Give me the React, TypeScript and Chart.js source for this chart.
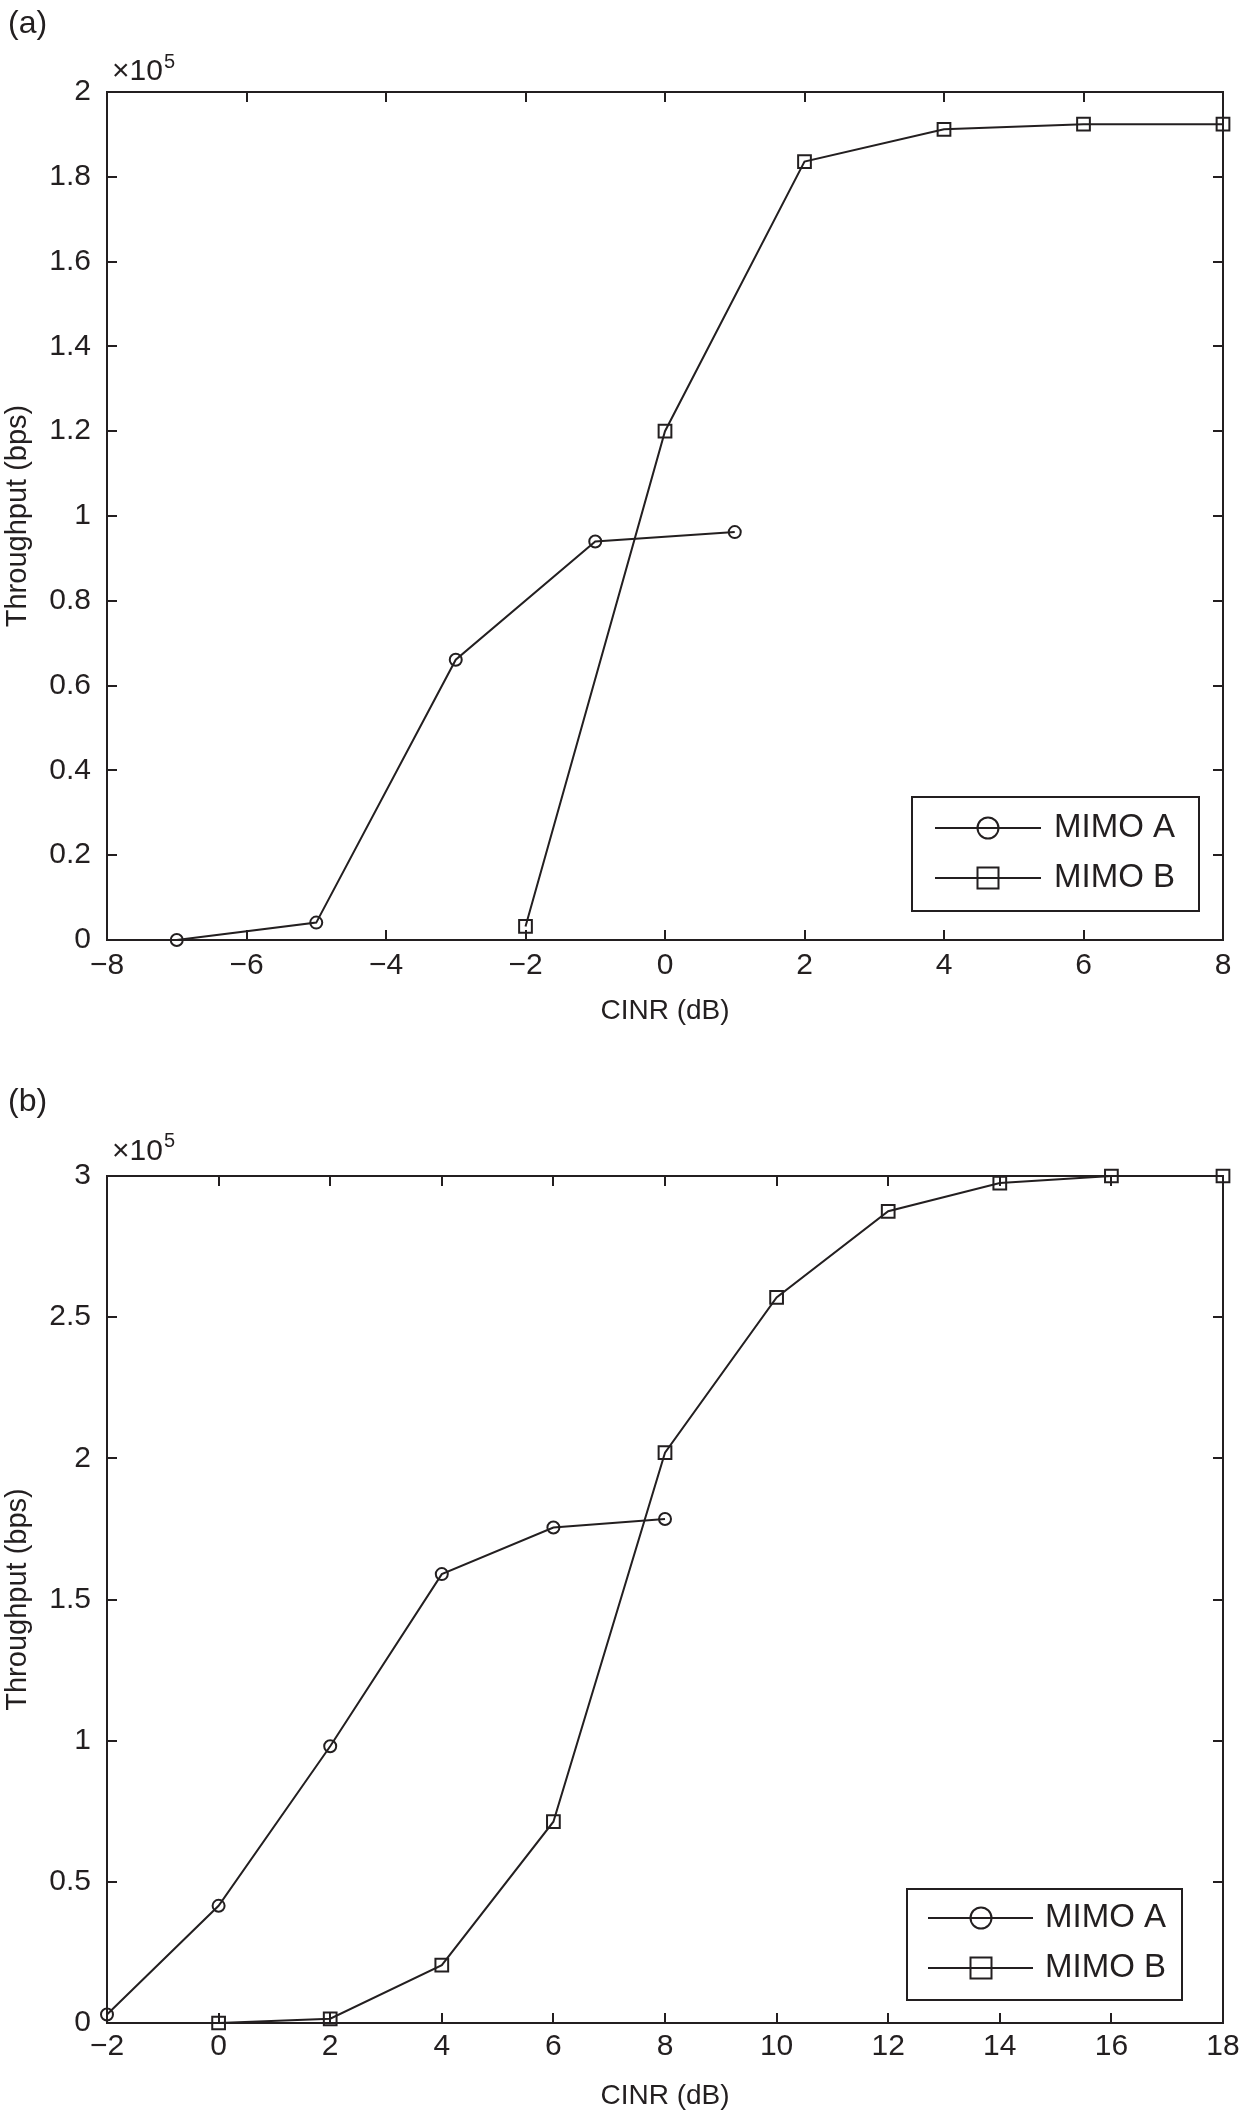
import React, { useEffect, useRef } from 'react';
import { Chart, registerables } from 'chart.js';

Chart.register(...registerables);

const FONT = '"Liberation Sans", Arial, Helvetica, sans-serif';
const INK = '#231f20';
const W = 1242;

// ---------- Panel (a) data ----------
const cinrMimoA_a = [-7, -5, -3, -1, 1];
const tputMimoA_a = [0, 4100, 66100, 94000, 96200];
const cinrMimoB_a = [-2, 0, 2, 4, 6, 8];
const tputMimoB_a = [3200, 120000, 183600, 191200, 192400, 192400];
const xTicks_a = [-8, -6, -4, -2, 0, 2, 4, 6, 8];
const xTickLabels_a = ['\u22128', '\u22126', '\u22124', '\u22122', '0', '2', '4', '6', '8'];
const yTicks_a = [0, 20000, 40000, 60000, 80000, 100000, 120000, 140000, 160000, 180000, 200000];
const yTickLabels_a = ['0', '0.2', '0.4', '0.6', '0.8', '1', '1.2', '1.4', '1.6', '1.8', '2'];

// ---------- Panel (b) data ----------
const cinrMimoA_b = [-2, 0, 2, 4, 6, 8];
const tputMimoA_b = [3000, 41500, 98000, 159000, 175500, 178500];
const cinrMimoB_b = [0, 2, 4, 6, 8, 10, 12, 14, 16, 18];
const tputMimoB_b = [0, 1500, 20500, 71300, 202000, 257000, 287500, 297500, 300000, 300000];
const xTicks_b = [-2, 0, 2, 4, 6, 8, 10, 12, 14, 16, 18];
const xTickLabels_b = ['\u22122', '0', '2', '4', '6', '8', '10', '12', '14', '16', '18'];
const yTicks_b = [0, 50000, 100000, 150000, 200000, 250000, 300000];
const yTickLabels_b = ['0', '0.5', '1', '1.5', '2', '2.5', '3'];

const seriesNames = ['MIMO A', 'MIMO B'];
const xTitle = 'CINR (dB)';
const yTitle = 'Throughput (bps)';

type Panel = {
  tag: string;
  height: number;
  plotTop: number;
  plotBottom: number;
  plotLeft: number;
  plotRight: number;
  xs: number[][];
  ys: number[][];
  xTicks: number[];
  xLabels: string[];
  yTicks: number[];
  yLabels: string[];
  xLabelPad: number;
  xTitlePad: number;
  legend: { l: number; t: number; r: number; b: number; rows: number[]; x0: number; x1: number; mx: number; tx: number };
  expo: { x: number; y: number; supY: number };
  tagPos: { x: number; y: number };
};

const panels: Panel[] = [
  {
    tag: '(a)',
    height: 1050,
    plotTop: 92,
    plotBottom: 940,
    plotLeft: 107,
    plotRight: 1223,
    xs: [cinrMimoA_a, cinrMimoB_a],
    ys: [tputMimoA_a, tputMimoB_a],
    xTicks: xTicks_a,
    xLabels: xTickLabels_a,
    yTicks: yTicks_a,
    yLabels: yTickLabels_a,
    xLabelPad: 18,
    xTitlePad: 22,
    legend: { l: 912, t: 797, r: 1199, b: 911, rows: [828, 878], x0: 935, x1: 1041, mx: 988, tx: 1054 },
    expo: { x: 112, y: 80, supY: 68 },
    tagPos: { x: 8, y: 33 },
  },
  {
    tag: '(b)',
    height: 1063,
    plotTop: 126,
    plotBottom: 973,
    plotLeft: 107,
    plotRight: 1223,
    xs: [cinrMimoA_b, cinrMimoB_b],
    ys: [tputMimoA_b, tputMimoB_b],
    xTicks: xTicks_b,
    xLabels: xTickLabels_b,
    yTicks: yTicks_b,
    yLabels: yTickLabels_b,
    xLabelPad: 16,
    xTitlePad: 0,
    legend: { l: 907, t: 839, r: 1182, b: 950, rows: [868, 918], x0: 928, x1: 1033, mx: 981, tx: 1045 },
    expo: { x: 112, y: 110, supY: 97 },
    tagPos: { x: 8, y: 61 },
  },
];

const pointStyles = ['circle', 'rect'];
const pointRadii = [6, 9];

function makeConfig(p: Panel): any {
  const gridOpts = {
    drawOnChartArea: false,
    drawTicks: true,
    tickLength: -10,
    color: INK,
    lineWidth: 2,
  };
  const borderOpts = { display: true, color: INK, width: 2 };
  const xMin = p.xTicks[0];
  const xMax = p.xTicks[p.xTicks.length - 1];
  const yMin = p.yTicks[0];
  const yMax = p.yTicks[p.yTicks.length - 1];
  const setX = (s: any) => {
    s.ticks = p.xTicks.map((v) => ({ value: v }));
  };
  const setY = (s: any) => {
    s.ticks = p.yTicks.map((v) => ({ value: v }));
  };
  const noPad = (s: any) => {
    s.paddingLeft = 0;
    s.paddingRight = 0;
    s.paddingTop = 0;
    s.paddingBottom = 0;
  };

  const decor = {
    id: 'decor' + p.tag,
    afterDraw(chart: any) {
      const ctx = chart.ctx as CanvasRenderingContext2D;
      ctx.save();
      ctx.fillStyle = INK;
      ctx.strokeStyle = INK;
      // panel tag
      ctx.font = `32px ${FONT}`;
      ctx.textBaseline = 'alphabetic';
      ctx.textAlign = 'left';
      ctx.fillText(p.tag, p.tagPos.x, p.tagPos.y);
      // exponent
      ctx.font = `30px ${FONT}`;
      ctx.fillText('\u00d710', p.expo.x, p.expo.y);
      const w = ctx.measureText('\u00d710').width;
      ctx.font = `20px ${FONT}`;
      ctx.fillText('5', p.expo.x + w + 1, p.expo.supY);
      // legend box
      const L = p.legend;
      ctx.fillStyle = '#ffffff';
      ctx.fillRect(L.l, L.t, L.r - L.l, L.b - L.t);
      ctx.lineWidth = 2;
      ctx.strokeRect(L.l, L.t, L.r - L.l, L.b - L.t);
      chart.data.datasets.forEach((ds: any, i: number) => {
        const y = L.rows[i];
        ctx.beginPath();
        ctx.moveTo(L.x0, y);
        ctx.lineTo(L.x1, y);
        ctx.lineWidth = 2;
        ctx.strokeStyle = INK;
        ctx.stroke();
        ctx.beginPath();
        if (ds.pointStyle === 'circle') {
          ctx.arc(L.mx, y, 10.5, 0, Math.PI * 2);
        } else {
          ctx.rect(L.mx - 10.5, y - 10.5, 21, 21);
        }
        ctx.stroke();
        ctx.fillStyle = INK;
        ctx.font = `33px ${FONT}`;
        ctx.textBaseline = 'middle';
        ctx.textAlign = 'left';
        ctx.fillText(ds.label, L.tx, y);
      });
      ctx.restore();
    },
  };

  return {
    type: 'line',
    data: {
      datasets: p.xs.map((xArr, i) => ({
        label: seriesNames[i],
        data: xArr.map((x, j) => ({ x, y: p.ys[i][j] })),
        borderColor: INK,
        borderWidth: 2,
        tension: 0,
        fill: false,
        pointStyle: pointStyles[i],
        pointRadius: pointRadii[i],
        pointBorderWidth: 2,
        pointBorderColor: INK,
        pointBackgroundColor: 'rgba(0,0,0,0)',
        clip: false,
        xAxisID: 'x',
        yAxisID: 'y',
      })),
    },
    options: {
      responsive: false,
      animation: false,
      events: [],
      layout: { padding: 0 },
      plugins: { legend: { display: false }, tooltip: { enabled: false } },
      scales: {
        x: {
          type: 'linear',
          position: 'bottom',
          min: xMin,
          max: xMax,
          afterBuildTicks: setX,
          afterFit: (s: any) => {
            s.height = p.height - p.plotBottom;
            noPad(s);
          },
          ticks: {
            callback: (_v: any, i: number) => p.xLabels[i],
            font: { family: FONT, size: 30 },
            color: INK,
            padding: p.xLabelPad,
            maxRotation: 0,
            autoSkip: false,
          },
          grid: gridOpts,
          border: borderOpts,
          title: {
            display: true,
            text: xTitle,
            font: { family: FONT, size: 28 },
            color: INK,
            padding: { top: 0, bottom: p.xTitlePad },
          },
        },
        x2: {
          type: 'linear',
          position: 'top',
          min: xMin,
          max: xMax,
          afterBuildTicks: setX,
          afterFit: (s: any) => {
            s.height = p.plotTop;
            noPad(s);
          },
          ticks: { display: false },
          grid: gridOpts,
          border: borderOpts,
        },
        y: {
          type: 'linear',
          position: 'left',
          min: yMin,
          max: yMax,
          afterBuildTicks: setY,
          afterFit: (s: any) => {
            s.width = p.plotLeft;
            noPad(s);
          },
          ticks: {
            callback: (_v: any, i: number) => p.yLabels[i],
            font: { family: FONT, size: 30 },
            color: INK,
            padding: 26,
            autoSkip: false,
          },
          grid: gridOpts,
          border: borderOpts,
          title: {
            display: true,
            text: yTitle,
            font: { family: FONT, size: 29 },
            color: INK,
            padding: { top: 1, bottom: 0 },
          },
        },
        y2: {
          type: 'linear',
          position: 'right',
          min: yMin,
          max: yMax,
          afterBuildTicks: setY,
          afterFit: (s: any) => {
            s.width = W - p.plotRight;
            noPad(s);
          },
          ticks: { display: false },
          grid: gridOpts,
          border: borderOpts,
        },
      },
    },
    plugins: [decor],
  };
}

function PanelChart({ panel }: { panel: Panel }) {
  const ref = useRef<HTMLCanvasElement | null>(null);
  useEffect(() => {
    if (!ref.current) return;
    const chart = new Chart(ref.current, makeConfig(panel));
    return () => chart.destroy();
  }, [panel]);
  return (
    <canvas
      ref={ref}
      width={W}
      height={panel.height}
      style={{ display: 'block', width: W, height: panel.height }}
    />
  );
}

export default function App() {
  return (
    <div
      style={{
        position: 'absolute',
        left: 0,
        top: 0,
        width: W,
        height: 2113,
        background: '#ffffff',
        overflow: 'hidden',
      }}
    >
      {panels.map((p) => (
        <PanelChart key={p.tag} panel={p} />
      ))}
    </div>
  );
}
